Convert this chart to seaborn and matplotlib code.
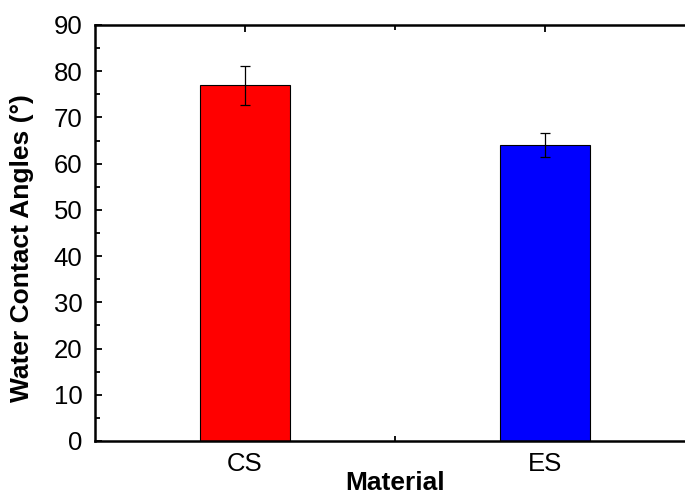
import matplotlib
matplotlib.use("Agg")
import matplotlib.pyplot as plt
import seaborn as sns
import pandas as pd
from matplotlib.ticker import MultipleLocator, FixedLocator

materials = ["CS", "ES"]
angles = [77.0, 64.0]
errors = [4.2, 2.6]
colors = ["#ff0000", "#0000ff"]

sns.set_style("ticks")
plt.rcParams['font.family'] = ['Liberation Sans', 'DejaVu Sans']
plt.rcParams['text.color'] = 'black'
plt.rcParams['axes.labelcolor'] = 'black'
plt.rcParams['xtick.color'] = 'black'
plt.rcParams['ytick.color'] = 'black'

df = pd.DataFrame({"Material": materials, "Angle": angles})

fig = plt.figure(figsize=(6.85, 5.01), dpi=100)
ax = fig.add_axes([95/685, 1-441/501, 600/685, (441-25)/501])

sns.barplot(data=df, x="Material", y="Angle", hue="Material", palette=colors,
            width=0.3, edgecolor="black", linewidth=0.8, legend=False, ax=ax,
            errorbar=None, saturation=1)

xs = [p.get_x() + p.get_width()/2 for p in ax.patches]
ax.errorbar(xs, angles, yerr=errors, fmt="none", ecolor="black",
            elinewidth=0.9, capsize=3.5, capthick=0.9)

ax.set_xlim(-0.5, 1.5)
ax.set_ylim(0, 90)
ax.yaxis.set_major_locator(MultipleLocator(10))
ax.yaxis.set_minor_locator(MultipleLocator(5))
ax.xaxis.set_minor_locator(FixedLocator([0.5]))

for s in ["left", "bottom", "top"]:
    ax.spines[s].set_visible(True)
    ax.spines[s].set_linewidth(1.8)
    ax.spines[s].set_color("black")
ax.spines["right"].set_visible(False)

ax.tick_params(axis="both", which="both", direction="in", top=True, right=False,
               width=1.3, colors="black")
ax.tick_params(axis="both", which="major", length=5, labelsize=18.5)
ax.tick_params(axis="y", which="major", pad=9)
ax.tick_params(axis="x", which="major", pad=8)
ax.tick_params(axis="both", which="minor", length=3.5)

ax.set_xlabel("Material", fontsize=19, fontweight="bold")
ax.set_ylabel("Water Contact Angles (°)", fontsize=19, fontweight="bold")
ax.xaxis.set_label_coords(0.5, (441 - 471) / 416)
ax.yaxis.set_label_coords(-0.102, 0.464)

fig.savefig("out.png", dpi=100)
